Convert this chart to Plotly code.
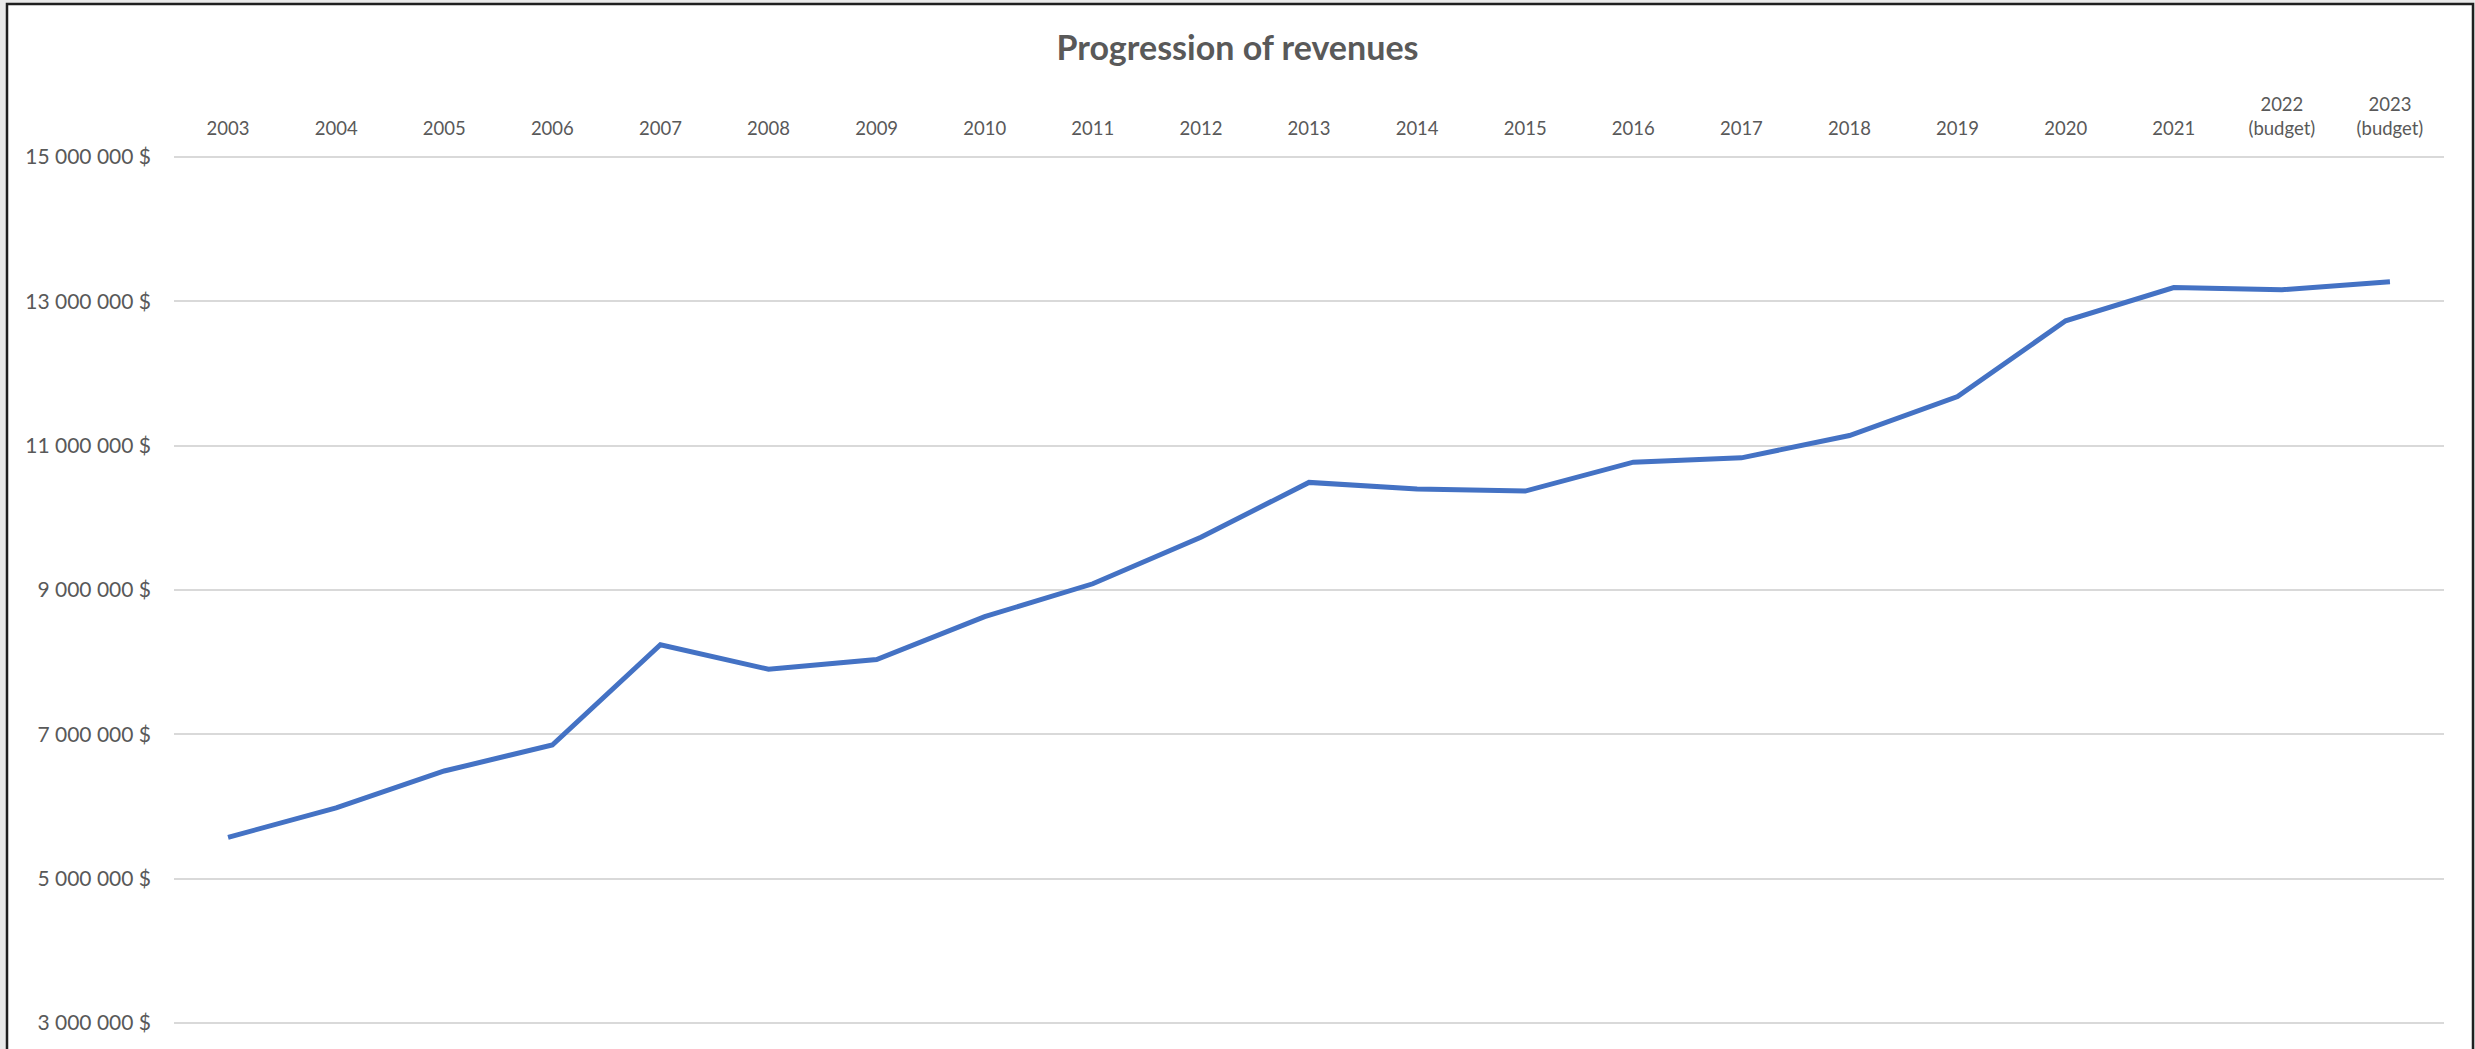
import plotly.graph_objects as go

# ---- data ----
categories = ["2003", "2004", "2005", "2006", "2007", "2008", "2009", "2010", "2011",
              "2012", "2013", "2014", "2015", "2016", "2017", "2018", "2019", "2020",
              "2021", "2022<br>(budget)", "2023<br>(budget)"]
revenues = [5570000, 5980000, 6490000, 6850000, 8240000, 7900000, 8035000, 8630000,
            9085000, 9730000, 10490000, 10400000, 10370000, 10770000, 10830000,
            11140000, 11680000, 12730000, 13190000, 13160000, 13270000]
title_text = "Progression of revenues"

W, H = 2475, 1049
PX_PER_M = 72.15
L, R, T, B = 174, 31, 152, 0
pw, ph = W - L - R, H - T - B
y_top = 15e6 + (157 - T) / PX_PER_M * 1e6
y_bot = y_top - ph / PX_PER_M * 1e6

def px_x(p):
    return (p - L) / pw

def px_y(p):
    return 1 + (T - p) / ph

FONT = "Lato, 'Open Sans', sans-serif"
GREY = "#595959"

fig = go.Figure()
fig.add_trace(go.Scatter(
    x=categories, y=revenues, mode="lines",
    line=dict(color="#4472C4", width=5),
    hoverinfo="x+y", showlegend=False,
))

fig.update_layout(
    width=W, height=H,
    margin=dict(l=L, r=R, t=T, b=B, pad=0),
    paper_bgcolor="#E9E9E9",
    plot_bgcolor="rgba(0,0,0,0)",
    separators=", ",
    title=dict(text="<b>" + title_text + "</b>", x=0.5, xref="container",
               y=1 - 48 / H, yref="container", xanchor="center", yanchor="middle",
               font=dict(family=FONT, size=34, color=GREY)),
    xaxis=dict(
        type="category", side="top", range=[-0.5, len(categories) - 0.5],
        showgrid=False, showline=False, zeroline=False, ticks="",
        tickfont=dict(family=FONT, size=18.5, color=GREY),
        ticklabelstandoff=12, fixedrange=True,
    ),
    yaxis=dict(
        range=[y_bot, y_top],
        dtick=2e6, tick0=1e6, tickformat=",d", ticksuffix=" $",
        showgrid=True, gridcolor="#D9D9D9", gridwidth=1.5,
        showline=False, zeroline=False, ticks="",
        tickfont=dict(family=FONT, size=21, color=GREY),
        ticklabelstandoff=22, fixedrange=True,
    ),
    shapes=[
        dict(type="rect", xref="paper", yref="paper",
             x0=px_x(7), x1=px_x(2473), y0=-0.2, y1=px_y(4),
             line=dict(color="#1F1F1F", width=2.5), fillcolor="white",
             layer="below"),
    ],
)

fig.write_html("out.html", config={"displayModeBar": False})
